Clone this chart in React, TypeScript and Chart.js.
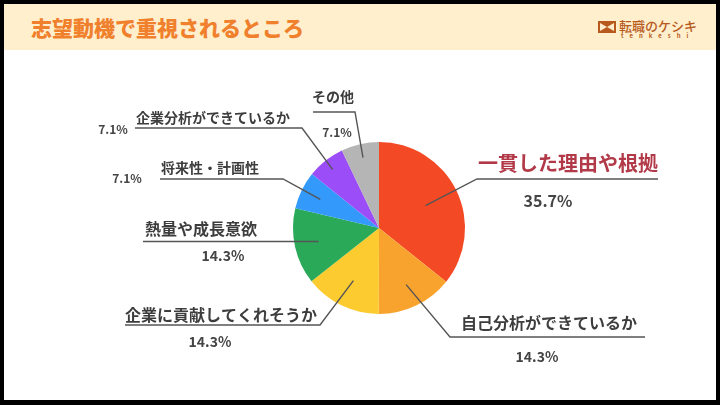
import React, { useEffect, useRef } from "react";
import { Chart, registerables } from "chart.js";

Chart.register(...registerables);

const title = "志望動機で重視されるところ";
const categories = [
  "一貫した理由や根拠",
  "自己分析ができているか",
  "企業に貢献してくれそうか",
  "熱量や成長意欲",
  "将来性・計画性",
  "企業分析ができているか",
  "その他",
];
const values = [35.7, 14.3, 14.3, 14.3, 7.1, 7.1, 7.1];
const colors = ["#F34A25", "#F9A32F", "#FBCB2F", "#2AAA59", "#3399FB", "#9B4DF8", "#B5B5B5"];

// label layout (style only): anchor radius fraction, elbow, line end, text & pct positions
const labelLayout = [
  { f: 0.6, elbow: [477, 179], end: [658, 179], text: [568, 163], size: 20, color: "#B23A48", pct: [548, 201], pctSize: 16 },
  { f: 0.73, elbow: [450, 337], end: [645, 337], text: [549, 323], size: 16, color: "#3d3d3d", pct: [537, 357], pctSize: 14 },
  { f: 0.68, elbow: [320, 325], end: [125, 325], text: [221, 315], size: 16, color: "#3d3d3d", pct: [210, 342], pctSize: 14 },
  { f: 0.72, elbow: null, end: [143, 0], text: [201, 229], size: 16, color: "#3d3d3d", pct: [223, 256], pctSize: 14 },
  { f: 0.76, elbow: [283, 179], end: [160, 179], text: [210, 168], size: 14, color: "#3d3d3d", pct: [127, 178], pctSize: 12 },
  { f: 0.87, elbow: [302, 128], end: [135, 128], text: [213, 118], size: 14, color: "#3d3d3d", pct: [113, 129], pctSize: 12 },
  { f: 0.84, elbow: [355, 112], end: [313, 112], text: [333, 97], size: 14, color: "#3d3d3d", pct: [337, 132], pctSize: 12 },
];

const FONT = '"Noto Sans CJK JP", "Noto Sans", sans-serif';

const labelPlugin = {
  id: "leaderLabels",
  afterDatasetsDraw(chart: any) {
    const ctx = chart.ctx;
    const meta = chart.getDatasetMeta(0);
    ctx.save();
    meta.data.forEach((arc: any, i: number) => {
      const p = arc.getProps(["x", "y", "startAngle", "endAngle", "outerRadius"], true);
      const L = labelLayout[i];
      const mid = (p.startAngle + p.endAngle) / 2;
      const ax = p.x + Math.cos(mid) * p.outerRadius * L.f;
      const ay = p.y + Math.sin(mid) * p.outerRadius * L.f;
      ctx.strokeStyle = "#555";
      ctx.lineWidth = 1.4;
      ctx.beginPath();
      ctx.moveTo(ax, ay);
      if (L.elbow) {
        ctx.lineTo(L.elbow[0], L.elbow[1]);
        ctx.lineTo(L.end[0], L.end[1]);
      } else {
        ctx.lineTo(L.end[0], ay);
      }
      ctx.stroke();
      ctx.textAlign = "center";
      ctx.textBaseline = "middle";
      ctx.fillStyle = L.color;
      ctx.font = `bold ${L.size}px ${FONT}`;
      ctx.fillText(categories[i], L.text[0], L.text[1]);
      ctx.fillStyle = "#444";
      ctx.font = `bold ${L.pctSize}px ${FONT}`;
      ctx.fillText(values[i].toFixed(1) + "%", L.pct[0], L.pct[1]);
    });
    ctx.restore();
  },
};

export default function App() {
  const ref = useRef<HTMLCanvasElement>(null);
  useEffect(() => {
    document.body.style.margin = "0";
    const chart = new Chart(ref.current!, {
      type: "pie",
      data: {
        labels: categories,
        datasets: [{ data: values, backgroundColor: colors, borderWidth: 0 }],
      },
      options: {
        responsive: false,
        animation: false,
        layout: { padding: { left: 293, right: 255, top: 142, bottom: 91 } },
        plugins: { legend: { display: false }, tooltip: { enabled: false } },
      },
      plugins: [labelPlugin],
    } as any);
    return () => chart.destroy();
  }, []);

  return (
    <div style={{ position: "fixed", left: 0, top: 0, width: 720, height: 405, background: "#000", overflow: "hidden" }}>
      <div style={{ position: "absolute", left: 4, top: 4, width: 712, height: 396, background: "#fff" }} />
      <div style={{ position: "absolute", left: 4, top: 4, width: 712, height: 46, background: "#FFEFCC" }}>
        <div
          style={{
            position: "absolute",
            left: 27,
            top: 0,
            height: 46,
            lineHeight: "46px",
            fontFamily: FONT,
            fontWeight: 900,
            fontSize: 21,
            color: "#F0802C",
            whiteSpace: "nowrap",
          }}
        >
          {title}
        </div>
        <svg style={{ position: "absolute", left: 594, top: 17 }} width={18} height={12} viewBox="0 0 18 12">
          <rect x={0} y={0} width={18} height={12} fill="#B85A1E" />
          <polygon points="2,2 9,6 2,10" fill="#FFEFCC" />
          <polygon points="16,2 9,6 16,10" fill="#FFEFCC" />
        </svg>
        <div
          style={{
            position: "absolute",
            left: 615,
            top: 14,
            fontFamily: FONT,
            fontWeight: 500,
            fontSize: 13,
            lineHeight: "16px",
            color: "#B85A1E",
            whiteSpace: "nowrap",
          }}
        >
          転職のケシキ
        </div>
        <div
          style={{
            position: "absolute",
            left: 617,
            top: 28,
            fontFamily: FONT,
            fontWeight: 700,
            fontSize: 6,
            lineHeight: "7px",
            letterSpacing: "6px",
            color: "#B85A1E",
            whiteSpace: "nowrap",
          }}
        >
          tenkeshi
        </div>
      </div>
      <canvas ref={ref} width={720} height={405} style={{ position: "absolute", left: 0, top: 0, width: 720, height: 405 }} />
    </div>
  );
}
